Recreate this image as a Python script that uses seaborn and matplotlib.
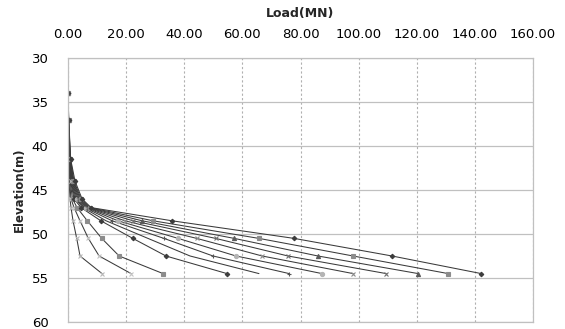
import matplotlib
matplotlib.use("Agg")
import matplotlib.pyplot as plt
from matplotlib.ticker import MultipleLocator, FormatStrFormatter
import seaborn as sns
import pandas as pd

# Elevation of the measurement points along the pile (m)
elevation = [34, 37, 41.5, 44, 46, 47, 48.5, 50.5, 52.5, 54.5]

# Axial load distribution (MN) for each loading step
load_1 = [0, 0.10, 0.17, 0.34, 0.69, 1.03, 1.72, 2.99, 4.13, 11.7]
load_2 = [0, 0.10, 0.24, 0.52, 1.03, 2.07, 4.13, 6.99, 10.7, 21.7]
load_3 = [0, 0.10, 0.28, 0.69, 1.55, 3.10, 6.64, 11.6, 17.6, 32.7]
load_4 = [0, 0.14, 0.34, 0.86, 2.07, 4.48, 11.3, 22.3, 33.7, 54.7]
load_5 = [0, 0.14, 0.41, 1.03, 2.41, 5.16, 13.1, 27.5, 42.0, 65.7]
load_6 = [0, 0.14, 0.48, 1.20, 2.75, 5.68, 15.2, 33.0, 49.9, 76.1]
load_7 = [0, 0.17, 0.55, 1.38, 3.10, 6.20, 17.2, 37.9, 57.8, 87.4]
load_8 = [0, 0.17, 0.62, 1.55, 3.44, 6.54, 19.6, 44.3, 66.8, 98.1]
load_9 = [0, 0.17, 0.69, 1.72, 3.79, 6.88, 22.4, 50.8, 75.7, 109.5]
load_10 = [0, 0.21, 0.76, 1.89, 4.13, 7.23, 25.5, 57.2, 86.0, 120.5]
load_11 = [0, 0.21, 0.83, 2.07, 4.48, 7.57, 29.3, 65.7, 98.1, 130.8]
load_12 = [0, 0.24, 0.90, 2.41, 4.82, 7.92, 35.8, 77.8, 111.5, 142.2]

series = [load_1, load_2, load_3, load_4, load_5, load_6,
          load_7, load_8, load_9, load_10, load_11, load_12]

# marker shape / marker colour for each step
markers = ["x", "x", "s", "D", None, "+", "o", "x", "x", "^", "s", "D"]
mcolors = ["#b8b8b8", "#c4c4c4", "#8c8c8c", "#3c3c3c", "#555555", "#555555",
           "#b4b4b4", "#8c8c8c", "#707070", "#5a5a5a", "#8c8c8c", "#3c3c3c"]
msizes = [3.0, 3.0, 3.2, 2.3, 0, 3.4, 3.0, 3.0, 3.0, 3.0, 3.2, 2.3]

sns.set_style("white")
plt.rcParams["font.family"] = ["DejaVu Sans"]

fig = plt.figure(figsize=(5.65, 3.29), dpi=100)
ax = fig.add_axes([0.1204, 0.0213, 0.8230, 0.8024])

for i, vals in enumerate(series):
    df = pd.DataFrame({"load": vals, "elev": elevation})
    kw = {}
    if markers[i] is not None:
        kw = dict(marker=markers[i], markersize=msizes[i],
                  markerfacecolor=mcolors[i], markeredgecolor=mcolors[i],
                  markeredgewidth=0.8)
    sns.lineplot(data=df, x="load", y="elev", sort=False, estimator=None,
                 color="#3a3a3a", linewidth=0.75, ax=ax, **kw)

ax.set_xlim(0, 160)
ax.set_ylim(60, 30)
ax.xaxis.set_major_locator(MultipleLocator(20))
ax.xaxis.set_major_formatter(FormatStrFormatter("%.2f"))
ax.yaxis.set_major_locator(MultipleLocator(5))

ax.xaxis.tick_top()
ax.xaxis.set_label_position("top")
ax.tick_params(axis="x", length=0, pad=12, labelsize=9.5, colors="black")
ax.tick_params(axis="y", length=0, pad=14, labelsize=9.5, colors="black")

ax.set_xlabel("Load(MN)", fontsize=9, fontweight="bold", labelpad=8)
ax.set_ylabel("Elevation(m)", fontsize=8.5, fontweight="bold", labelpad=4)

ax.grid(False)
ax.yaxis.grid(True, color="#c0c0c0", linewidth=0.9, linestyle="-")
ax.xaxis.grid(True, color="#b0b0b0", linewidth=0.8, linestyle=(0, (2, 2)))
ax.set_axisbelow(True)
for s in ax.spines.values():
    s.set_visible(True)
    s.set_color("#c0c0c0")
    s.set_linewidth(0.9)

fig.savefig("out.png", dpi=100)
